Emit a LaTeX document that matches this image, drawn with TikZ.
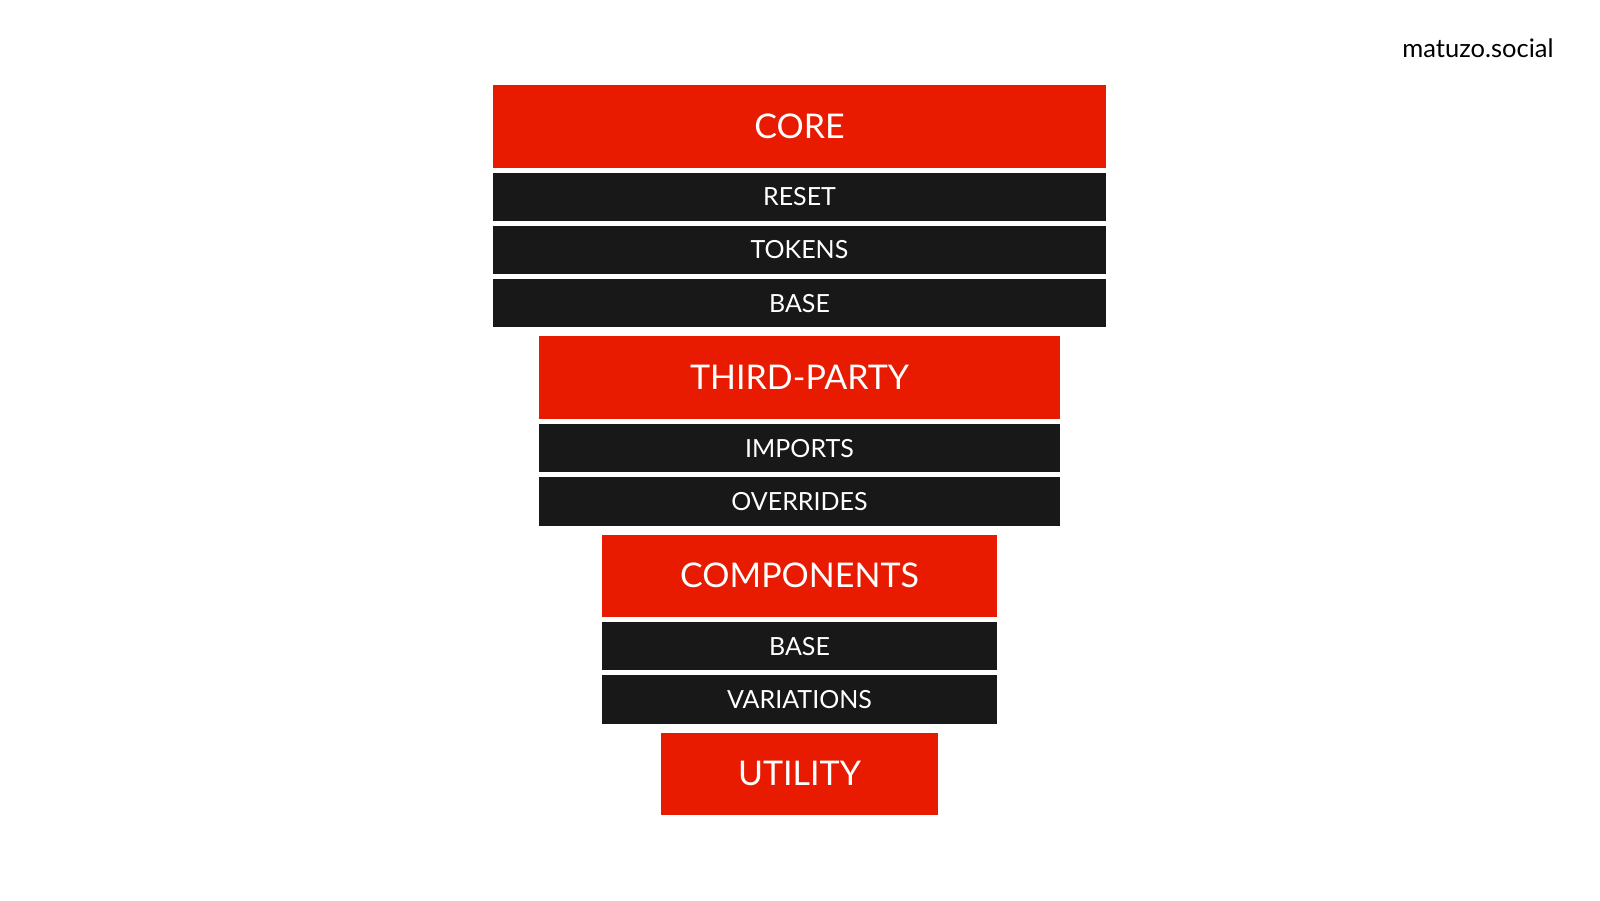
\documentclass[tikz,border=0pt]{standalone}
\usepackage{fontspec}
\setmainfont{Lato}
\usetikzlibrary{positioning}
\definecolor{layerred}{HTML}{E81A00}
\definecolor{layerblack}{HTML}{181818}

\begin{document}
\begin{tikzpicture}[x=1pt, y=1pt, node distance=5pt,
layer/.style={fill=layerred, text=white, minimum height=82.5pt,
  inner sep=0pt, outer sep=0pt, font=\fontsize{34}{40}\selectfont},
sublayer/.style={fill=layerblack, text=white, minimum height=48.3pt,
  inner sep=0pt, outer sep=0pt, font=\fontsize{25}{30}\selectfont}]

\useasboundingbox (0,0) rectangle (1600,-900);

\node [layer, minimum width=613pt] (core) at (799.5,-126.25) {CORE};
\node [sublayer, minimum width=613pt] (reset) [below=of core] {RESET};
\node [sublayer, minimum width=613pt] (tokens) [below=of reset] {TOKENS};
\node [sublayer, minimum width=613pt] (corebase) [below=of tokens] {BASE};

\node [layer, minimum width=521pt] (thirdparty) [below=9pt of corebase] {THIRD-PARTY};
\node [sublayer, minimum width=521pt] (imports) [below=of thirdparty] {IMPORTS};
\node [sublayer, minimum width=521pt] (overrides) [below=of imports] {OVERRIDES};

\node [layer, minimum width=395pt] (components) [below=9pt of overrides] {COMPONENTS};
\node [sublayer, minimum width=395pt] (compbase) [below=of components] {BASE};
\node [sublayer, minimum width=395pt] (variations) [below=of compbase] {VARIATIONS};

\node [layer, minimum width=277pt] (utility) [below=9pt of variations] {UTILITY};

\node [anchor=base east, font=\fontsize{25.5}{30}\selectfont] (brand) at (1557,-57.5) {matuzo.social};
\end{tikzpicture}
\end{document}
